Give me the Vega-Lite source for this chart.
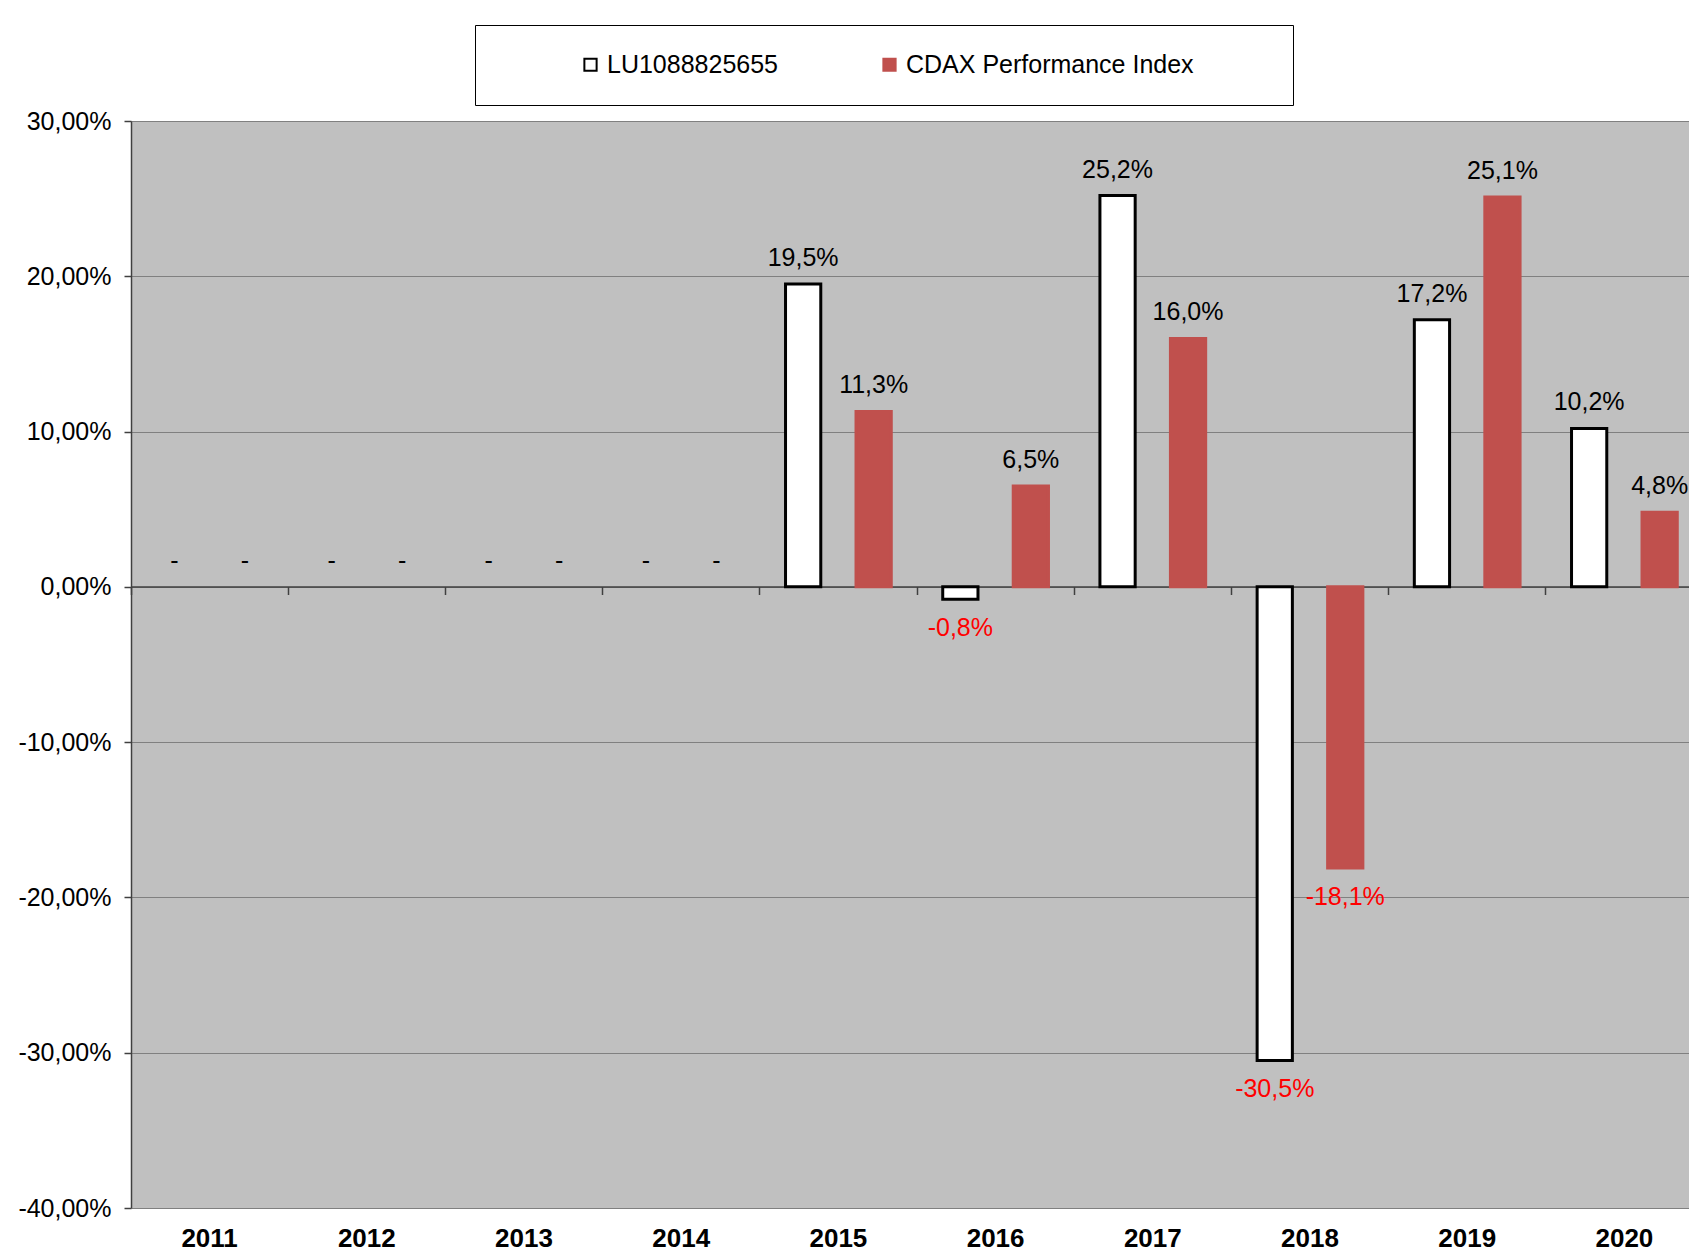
{
  "$schema": "https://vega.github.io/schema/vega-lite/v6.json",
  "width": 1558,
  "height": 1087,
  "autosize": {"type": "none"},
  "padding": {"left": 131, "top": 121, "right": 0, "bottom": 45},
  "background": "white",
  "config": {"view": {"fill": "#C0C0C0", "stroke": null}, "font": "Liberation Sans"},
  "data": {
    "values": [
      {"year": "2011", "series": "LU1088825655", "v": null},
      {"year": "2011", "series": "CDAX Performance Index", "v": null},
      {"year": "2012", "series": "LU1088825655", "v": null},
      {"year": "2012", "series": "CDAX Performance Index", "v": null},
      {"year": "2013", "series": "LU1088825655", "v": null},
      {"year": "2013", "series": "CDAX Performance Index", "v": null},
      {"year": "2014", "series": "LU1088825655", "v": null},
      {"year": "2014", "series": "CDAX Performance Index", "v": null},
      {"year": "2015", "series": "LU1088825655", "v": 0.195},
      {"year": "2015", "series": "CDAX Performance Index", "v": 0.113},
      {"year": "2016", "series": "LU1088825655", "v": -0.008},
      {"year": "2016", "series": "CDAX Performance Index", "v": 0.065},
      {"year": "2017", "series": "LU1088825655", "v": 0.252},
      {"year": "2017", "series": "CDAX Performance Index", "v": 0.160},
      {"year": "2018", "series": "LU1088825655", "v": -0.305},
      {"year": "2018", "series": "CDAX Performance Index", "v": -0.181},
      {"year": "2019", "series": "LU1088825655", "v": 0.172},
      {"year": "2019", "series": "CDAX Performance Index", "v": 0.251},
      {"year": "2020", "series": "LU1088825655", "v": 0.102},
      {"year": "2020", "series": "CDAX Performance Index", "v": 0.048}
    ]
  },
  "transform": [
    {"calculate": "datum.v == null ? 0 : datum.v", "as": "vy"},
    {"calculate": "datum.v == null ? '-' : replace(replace(format(datum.v, '.1%'), '.', ','), '\u2212', '-')", "as": "lbl"}
  ],
  "resolve": {"axis": {"x": "independent"}},
  "layer": [
    {
      "mark": {"type": "bar", "strokeWidth": 3},
      "encoding": {
        "x": {
          "field": "year", "type": "nominal",
          "scale": {"range": [0, 1572], "paddingInner": 0, "paddingOuter": 0},
          "axis": {"orient": "bottom", "title": null, "domain": false, "ticks": false, "tickSize": 0, "labelPadding": 17, "labelAngle": 0, "labelFont": "Liberation Sans", "labelFontSize": 26, "labelFontWeight": "bold", "labelColor": "black", "grid": false}
        },
        "xOffset": {
          "field": "series", "type": "nominal",
          "sort": ["LU1088825655", "CDAX Performance Index"],
          "scale": {"paddingInner": 0.5, "paddingOuter": 0.365}
        },
        "y": {
          "field": "v", "type": "quantitative",
          "scale": {"domain": [-0.4, 0.3], "nice": false, "zero": false},
          "axis": {"title": null, "values": [-0.4, -0.3, -0.2, -0.1, 0, 0.1, 0.2, 0.3], "labelExpr": "replace(replace(format(datum.value, '.2%'), '.', ','), '\u2212', '-')", "labelFont": "Liberation Sans", "labelFontSize": 25, "labelColor": "black", "labelPadding": 13, "tickSize": 7, "tickColor": "#404040", "tickWidth": 1.5, "domainColor": "#404040", "domainWidth": 1.5, "grid": true, "gridColor": "#808080", "gridWidth": 1}
        },
        "fill": {
          "field": "series", "type": "nominal",
          "scale": {"domain": ["LU1088825655", "CDAX Performance Index"], "range": ["#FFFFFF", "#C0504D"]},
          "legend": {"orient": "none", "legendX": 344, "legendY": -96, "direction": "horizontal", "columns": 2, "title": " ", "titleOrient": "left", "titlePadding": 76, "titleFontSize": 25, "padding": 27, "strokeColor": "black", "fillColor": "white", "labelFont": "Liberation Sans", "labelFontSize": 25, "labelColor": "black", "labelLimit": 800, "symbolType": "square", "symbolSize": 150, "symbolStrokeWidth": 2, "columnPadding": 27, "labelExpr": "datum.label + '\u2800\u2800\u2800\u2800'"}
        },
        "stroke": {
          "field": "series", "type": "nominal",
          "scale": {"domain": ["LU1088825655", "CDAX Performance Index"], "range": ["#000000", "#C0504D"]}
        }
      }
    },
    {
      "transform": [{"filter": "datum.vy >= 0"}],
      "mark": {"type": "text", "baseline": "middle", "align": "center", "dy": -26, "fontSize": 25, "font": "Liberation Sans", "color": "black"},
      "encoding": {
        "x": {
          "field": "year", "type": "nominal",
          "axis": {"orient": "bottom", "offset": -621.5, "title": null, "labels": false, "domain": true, "domainColor": "#404040", "domainWidth": 1.5, "ticks": true, "tickColor": "#404040", "tickWidth": 1.5, "tickSize": 8, "bandPosition": 0, "grid": false}
        },
        "xOffset": {"field": "series", "type": "nominal", "sort": ["LU1088825655", "CDAX Performance Index"]},
        "y": {"field": "vy", "type": "quantitative"},
        "text": {"field": "lbl"}
      }
    },
    {
      "transform": [{"filter": "datum.vy < 0"}],
      "mark": {"type": "text", "baseline": "middle", "align": "center", "dy": 29, "fontSize": 25, "font": "Liberation Sans", "color": "#FF0000"},
      "encoding": {
        "x": {"field": "year", "type": "nominal", "axis": null},
        "xOffset": {"field": "series", "type": "nominal", "sort": ["LU1088825655", "CDAX Performance Index"]},
        "y": {"field": "vy", "type": "quantitative"},
        "text": {"field": "lbl"}
      }
    }
  ]
}
